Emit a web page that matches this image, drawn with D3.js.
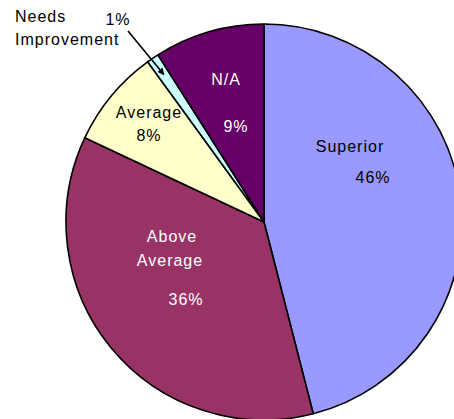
<!DOCTYPE html>
<html>
<head>
<meta charset="utf-8">
<script src="https://cdn.jsdelivr.net/npm/d3@7"></script>
<style>
  html, body { margin: 0; padding: 0; background: #fff; }
  svg { display: block; }
  text { font-family: "Liberation Sans", Arial, sans-serif; font-size: 16px; letter-spacing: 1px; }
</style>
</head>
<body>
<svg id="chart" width="454" height="419"></svg>
<script>
// Rating distribution
const categories = ["Superior", "Above Average", "Average", "Needs Improvement", "N/A"];
const values = [46, 36, 8, 1, 9];
const colors = ["#9999FF", "#993366", "#FFFFCC", "#CCFFFF", "#660066"];
const textColors = ["#000", "#fff", "#000", "#000", "#fff"];

// Label lines for each slice (name lines, percent)
const nameLines = [["Superior"], ["Above", "Average"], ["Average"], ["Needs", "Improvement"], ["N/A"]];

// Label placement relative to the pie centre: name line baselines and percent baseline
const labelLayout = [
  { names: [[86, -70]], pct: [109, -39] },
  { names: [[-92, 20], [-94, 44]], pct: [-78, 83] },
  { names: [[-115, -104]], pct: [-115, -81] },
  { names: [[-249, -200], [-249, -177]], pct: [-146, -197], anchor: "start", pctAnchor: "middle" },
  { names: [[-38, -137]], pct: [-28, -90] }
];

const cx = 264, cy = 222, radius = 198;
const svg = d3.select("#chart");

svg.append("defs").append("marker")
  .attr("id", "arrowhead")
  .attr("viewBox", "0 0 10 10")
  .attr("refX", 9).attr("refY", 5)
  .attr("markerWidth", 7).attr("markerHeight", 7)
  .attr("markerUnits", "userSpaceOnUse")
  .attr("orient", "auto")
  .append("path")
  .attr("d", "M0,0 L10,5 L0,10 z")
  .attr("fill", "#000");

const g = svg.append("g").attr("transform", `translate(${cx},${cy})`);

const pie = d3.pie().sort(null).value(d => d)
  .startAngle(0).endAngle(2 * Math.PI);
const arcs = pie(values);
const arc = d3.arc().innerRadius(0).outerRadius(radius);

g.selectAll("path.slice")
  .data(arcs)
  .join("path")
  .attr("class", "slice")
  .attr("d", arc)
  .attr("fill", (d, i) => colors[i])
  .attr("stroke", "#000")
  .attr("stroke-width", 1.6)
  .attr("stroke-linejoin", "round");

// Labels
arcs.forEach((d, i) => {
  const lay = labelLayout[i];
  const fill = textColors[i];
  nameLines[i].forEach((line, j) => {
    g.append("text")
      .attr("x", lay.names[j][0])
      .attr("y", lay.names[j][1])
      .attr("text-anchor", lay.anchor || "middle")
      .attr("fill", fill)
      .text(line);
  });
  g.append("text")
    .attr("x", lay.pct[0])
    .attr("y", lay.pct[1])
    .attr("text-anchor", lay.pctAnchor || "middle")
    .attr("fill", fill)
    .text(d3.format(".0f")(values[i]) + "%");
});

// Leader arrow from the small-slice label into its slice
const small = arcs[3];
const midA = (small.startAngle + small.endAngle) / 2;
const tipR = radius * 0.9;
const tip = [Math.sin(midA) * tipR, -Math.cos(midA) * tipR];
g.append("line")
  .attr("x1", -136).attr("y1", -191)
  .attr("x2", tip[0]).attr("y2", tip[1])
  .attr("stroke", "#000")
  .attr("stroke-width", 1.6)
  .attr("marker-end", "url(#arrowhead)");
</script>
</body>
</html>
